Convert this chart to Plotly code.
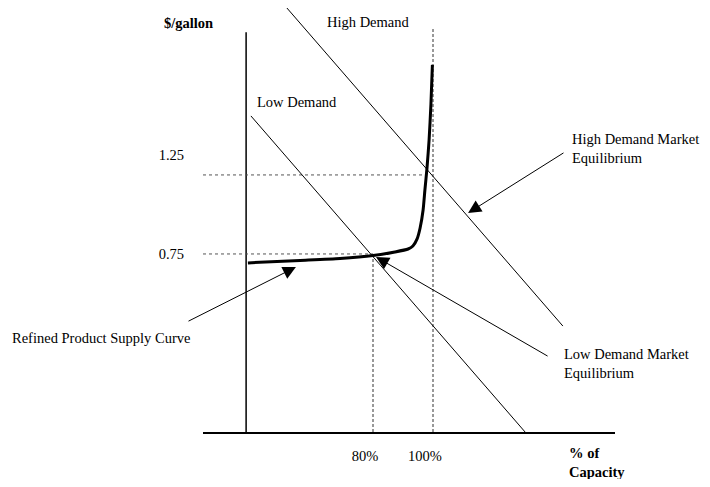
"""
Refined product supply curve with low / high demand equilibria
Schematic chart rebuilt with Plotly
"""

import plotly.graph_objects as go

FONT = 'Liberation Serif'

# Axis ticks
x_tick_vals = [80, 100]
x_tick_text = ['80%', '100%']
y_tick_vals = [0.75, 1.25]
y_tick_text = ['0.75', '1.25']

# Origin of the drawn axes (x in % of capacity, y in $/gallon)
axis_x0 = 37.7
axis_y0 = -0.149
axis_y_top = 1.87
x_range = [23.33, 160.67]
y_range = [-0.149, 1.992]

# Refined product supply curve
supply_x = [38.3, 55.7, 69.0, 80.0, 87.3, 91.7, 93.3, 94.7, 95.7, 96.7, 97.3, 98.0, 98.7, 99.3, 99.8]
supply_y = [0.705, 0.717, 0.727, 0.742, 0.760, 0.775, 0.790, 0.826, 0.881, 0.972, 1.073, 1.184, 1.326, 1.503, 1.705]

# Demand curves (two end points each)
high_demand_x = [51.3, 143.3]
high_demand_y = [1.992, 0.386]
low_demand_x = [39.3, 130.7]
low_demand_y = [1.447, -0.149]

# Equilibria
low_eq_capacity = 80
low_eq_price = 0.75
high_eq_capacity = 97.4
high_eq_price = 1.149
capacity_top = 1.89   # top of the 100% dashed line

# Arrows: (tail x, tail y, head x, head y)
arrow_supply = [18.0, 0.407, 54.3, 0.684]
arrow_high_eq = [144.0, 1.265, 111.7, 0.957]
arrow_low_eq = [138.7, 0.230, 81.0, 0.735]

fig = go.Figure()

# Eixo vertical desenhado (fica dentro da área do gráfico)
fig.add_trace(go.Scatter(
    x=[axis_x0, axis_x0],
    y=[axis_y0, axis_y_top],
    mode='lines',
    line=dict(color='black', width=1.5),
    hoverinfo='skip'
))

# Linhas pontilhadas horizontais dos preços de equilíbrio
for px_end, price in [(low_eq_capacity, low_eq_price), (high_eq_capacity, high_eq_price)]:
    fig.add_trace(go.Scatter(
        x=[x_range[0], px_end],
        y=[price, price],
        mode='lines',
        line=dict(color='#555555', width=1, dash='dot'),
        hoverinfo='skip'
    ))

# Linhas tracejadas verticais 80% e 100%
fig.add_trace(go.Scatter(
    x=[x_tick_vals[0], x_tick_vals[0]],
    y=[axis_y0, supply_y[3]],
    mode='lines',
    line=dict(color='#333333', width=1, dash='3px,2px'),
    hoverinfo='skip'
))
fig.add_trace(go.Scatter(
    x=[x_tick_vals[1], x_tick_vals[1]],
    y=[axis_y0, capacity_top],
    mode='lines',
    line=dict(color='#333333', width=1, dash='3px,2px'),
    hoverinfo='skip'
))

# Curvas de demanda
fig.add_trace(go.Scatter(
    x=high_demand_x, y=high_demand_y,
    mode='lines',
    line=dict(color='black', width=1),
    hoverinfo='skip'
))
fig.add_trace(go.Scatter(
    x=low_demand_x, y=low_demand_y,
    mode='lines',
    line=dict(color='black', width=1),
    hoverinfo='skip'
))

# Curva de oferta
fig.add_trace(go.Scatter(
    x=supply_x, y=supply_y,
    mode='lines',
    line=dict(color='black', width=3, shape='spline', smoothing=0.6),
    hoverinfo='skip'
))

annotations = []

# Setas
for tx, ty, hx, hy in [arrow_supply, arrow_high_eq, arrow_low_eq]:
    annotations.append(dict(
        x=hx, y=hy, ax=tx, ay=ty,
        xref='x', yref='y', axref='x', ayref='y',
        text='', showarrow=True,
        arrowhead=2, arrowsize=2.6, arrowwidth=1, arrowcolor='black',
        standoff=0, startstandoff=0
    ))

text_font = dict(family=FONT, size=14.5, color='black')

# Textos dentro da área (coordenadas de dados)
labels = [
    ('High Demand', 78.3, 1.922, 'center'),
    ('Low Demand', 54.7, 1.518, 'center'),
    ('High Demand Market<br>Equilibrium', 145.6, 1.285, 'left'),
    ('Low Demand Market<br>Equilibrium', 143.0, 0.199, 'left'),
]
for text, x, y, anchor in labels:
    annotations.append(dict(
        x=x, y=y, xref='x', yref='y',
        text=text, showarrow=False,
        xanchor=anchor, yanchor='middle', align='left',
        font=text_font
    ))

# Textos fora da área (coordenadas de papel)
paper_labels = [
    ('<b>$/gallon</b>', -0.036, 0.965, 'center'),
    ('Refined Product Supply Curve', -0.248, 0.222, 'center'),
    ('<b>% of<br>Capacity</b>', 0.8835, -0.071, 'left'),
]
for text, x, y, anchor in paper_labels:
    annotations.append(dict(
        x=x, y=y, xref='paper', yref='paper',
        text=text, showarrow=False,
        xanchor=anchor, yanchor='middle', align='left',
        font=text_font
    ))

fig.update_layout(
    width=702,
    height=471,
    autosize=False,
    showlegend=False,
    paper_bgcolor='white',
    plot_bgcolor='white',
    font=text_font,
    margin=dict(l=195, r=95, t=0, b=47),
    annotations=annotations
)

fig.update_xaxes(
    range=x_range,
    showgrid=False,
    zeroline=False,
    showline=True,
    linecolor='black',
    linewidth=1.5,
    tickvals=x_tick_vals,
    ticktext=x_tick_text,
    ticks='',
    ticklabelstandoff=10,
    ticklabelshift=-8,
    tickfont=text_font
)

fig.update_yaxes(
    range=y_range,
    showgrid=False,
    zeroline=False,
    showline=False,
    tickvals=y_tick_vals,
    ticktext=y_tick_text,
    ticks='',
    ticklabelstandoff=18,
    tickfont=text_font
)

fig.write_html('out.html')
